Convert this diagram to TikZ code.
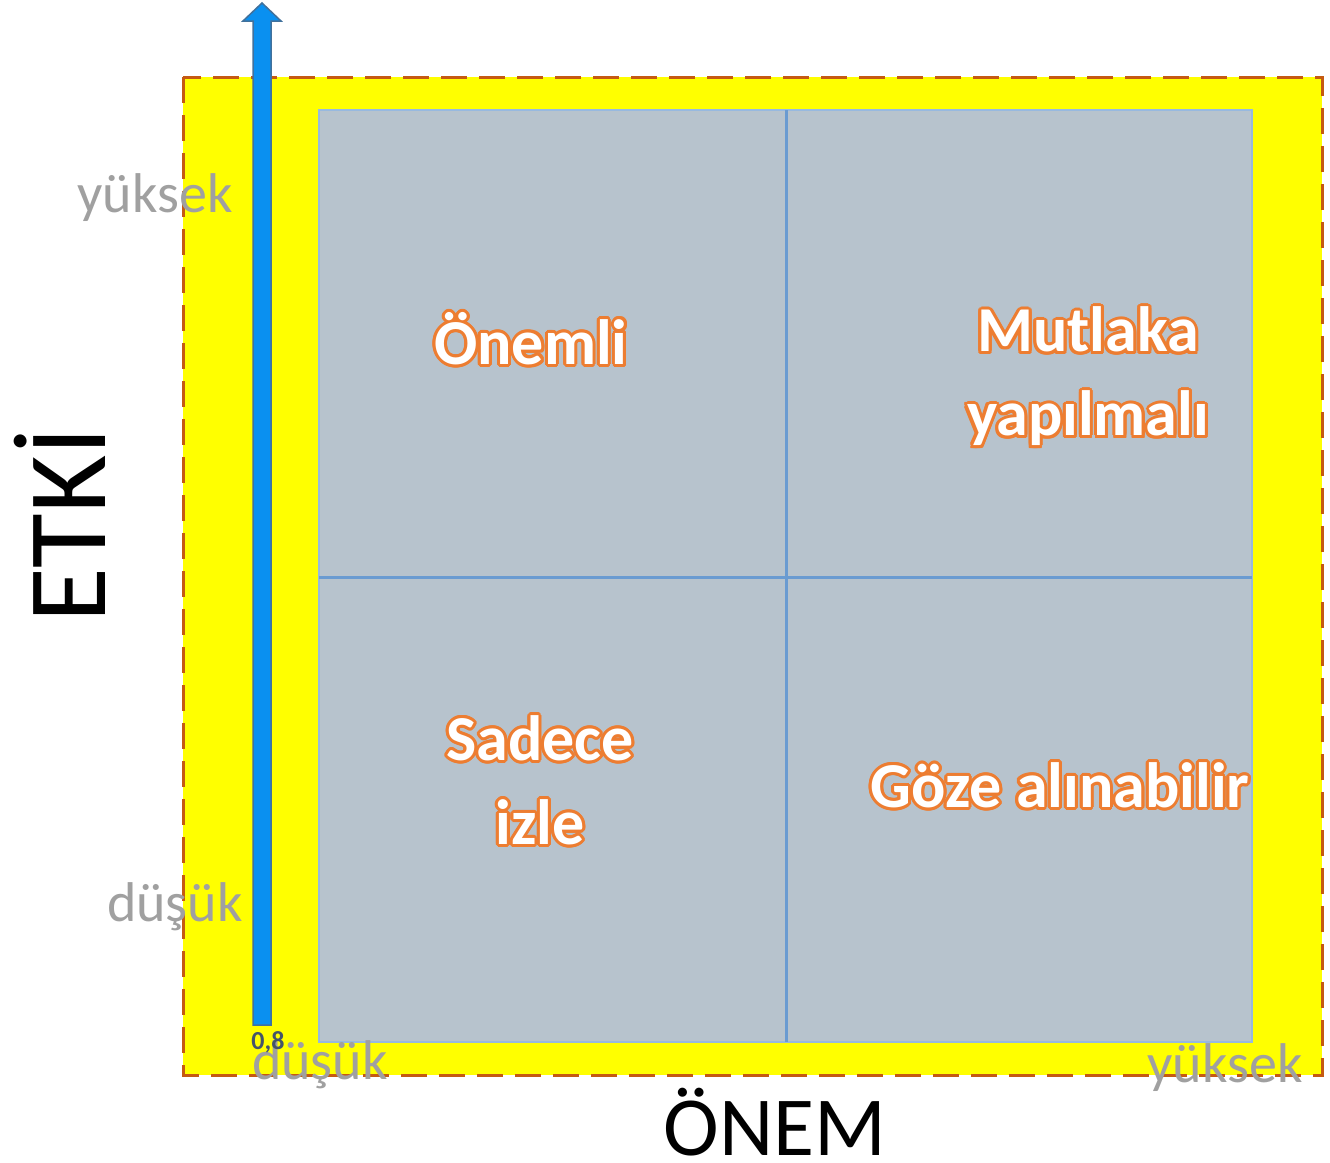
\documentclass[tikz,border=0pt]{standalone}
\usepackage{fontspec}
\setmainfont{Carlito}
\usepackage{contour}
\contourlength{3pt}
\definecolor{sari}{HTML}{FFFF00}
\definecolor{kenar}{HTML}{C55A11}
\definecolor{kutu}{HTML}{B7C3CD}
\definecolor{cizgi}{HTML}{6A9BD1}
\definecolor{ok}{HTML}{0A90F0}
\definecolor{okkenar}{HTML}{41719C}
\definecolor{turuncu}{HTML}{ED7D31}
\definecolor{soluk}{HTML}{A0A0A0}
\definecolor{koyu}{HTML}{44546A}
\tikzset{
  etiket/.style={text=soluk, font=\fontsize{56}{60}\selectfont},
  alan/.style={text=white, align=center, font=\bfseries\fontsize{64}{84}\selectfont},
}
\newcommand{\turuncuyaz}[1]{\contour{turuncu}{#1}}
\begin{document}
\begin{tikzpicture}[x=1pt,y=-1pt]
    \useasboundingbox (0,0) rectangle (1330,1162);
    \draw[kenar, fill=sari, line width=3pt, dash pattern=on 26pt off 12pt] (183,77) rectangle (1322,1075);
    \draw[cizgi!70, fill=kutu, line width=2.5pt] (319,110) rectangle (1252,1042);
    \draw[cizgi, line width=3pt] (786,110) -- (786,1042);
    \draw[cizgi, line width=3pt] (319,577) -- (1252,577);
    \draw[okkenar, fill=ok, line width=1.5pt] (253,1025) -- (253,21) -- (243,21) -- (262,3) -- (281,21) -- (271,21) -- (271,1025) -- cycle;

    \node[etiket] (yuksekSol) at (155,198) {yüksek};
    \node[etiket] (dusukSol) at (175,907) {düşük};
    \node[etiket] (dusukAlt) at (320,1065) {düşük};
    \node[etiket] (yuksekAlt) at (1225,1068) {yüksek};
    \node[text=koyu, font=\bfseries\fontsize{26}{26}\selectfont] (sifir) at (268,1042) {0,8};

    \node[rotate=90, font=\fontsize{112}{112}\selectfont] (etki) at (60,525) {ETKİ};
    \node[inner sep=0pt, font=\fontsize{84}{84}\selectfont] (onem) at (775,1122) {ÖNEM};

    \node[alan] (onemli) at (531,340) {\turuncuyaz{Önemli}};
    \node[alan] (mutlaka) at (1088,378) {\turuncuyaz{Mutlaka}\\\turuncuyaz{yapılmalı}};
    \node[alan] (sadece) at (540,782) {\turuncuyaz{Sadece}\\\turuncuyaz{izle}};
    \node[alan] (goze) at (1060,787) {\turuncuyaz{Göze alınabilir}};
\end{tikzpicture}
\end{document}
